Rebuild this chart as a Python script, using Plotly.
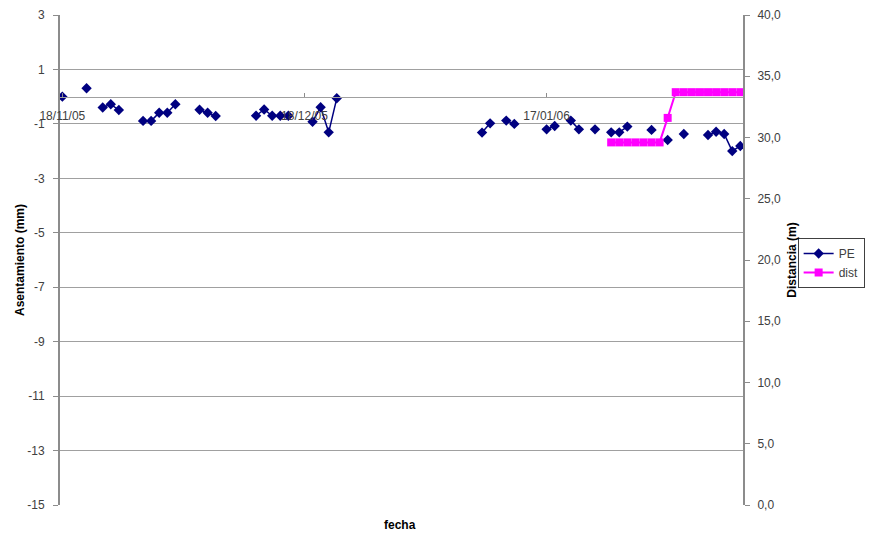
import plotly.graph_objects as go
from datetime import datetime, timedelta

# PE measurements (date, settlement mm)
pe_dates = [
    "2005-11-18", "2005-11-21", "2005-11-23", "2005-11-24", "2005-11-25",
    "2005-11-28", "2005-11-29", "2005-11-30", "2005-12-01", "2005-12-02",
    "2005-12-05", "2005-12-06", "2005-12-07",
    "2005-12-12", "2005-12-13", "2005-12-14", "2005-12-15", "2005-12-16",
    "2005-12-19", "2005-12-20", "2005-12-21", "2005-12-22",
    "2006-01-09", "2006-01-10", "2006-01-12", "2006-01-13",
    "2006-01-17", "2006-01-18", "2006-01-20", "2006-01-21", "2006-01-23",
    "2006-01-25", "2006-01-26", "2006-01-27", "2006-01-30", "2006-02-01",
    "2006-02-03", "2006-02-06", "2006-02-07", "2006-02-08", "2006-02-09", "2006-02-10",
]
pe_values = [
    0.0, 0.31, -0.40, -0.28, -0.49,
    -0.89, -0.89, -0.59, -0.59, -0.28,
    -0.48, -0.59, -0.71,
    -0.70, -0.47, -0.70, -0.70, -0.70,
    -0.92, -0.39, -1.31, -0.06,
    -1.32, -0.98, -0.88, -1.00,
    -1.20, -1.08, -0.88, -1.20, -1.20,
    -1.31, -1.31, -1.10, -1.22, -1.59,
    -1.37, -1.41, -1.29, -1.37, -2.00, -1.81,
]

# dist measurements (date, distance m)
dist_dates = [
    "2006-01-25", "2006-01-26", "2006-01-27", "2006-01-28", "2006-01-29",
    "2006-01-30", "2006-01-31", "2006-02-01", "2006-02-02", "2006-02-03",
    "2006-02-04", "2006-02-05", "2006-02-06", "2006-02-07", "2006-02-08",
    "2006-02-09", "2006-02-10",
]
dist_values = [
    29.6, 29.6, 29.6, 29.6, 29.6,
    29.6, 29.6, 31.6, 33.7, 33.7,
    33.7, 33.7, 33.7, 33.7, 33.7,
    33.7, 33.7,
]

tick_dates = ["2005-11-18", "2005-12-18", "2006-01-17"]
y_tick_vals = [3, 1, -1, -3, -5, -7, -9, -11, -13, -15]
y_tick_text = ["3", "1", "-1", "-3", "-5", "-7", "-9", "-11", "-13", "-15"]


def with_gaps(dates, values):
    """Insert None where consecutive measurements are more than one day apart (Excel blank cells)."""
    xs, ys = [], []
    prev = None
    for d, v in zip(dates, values):
        cur = datetime.strptime(d, "%Y-%m-%d")
        if prev is not None and (cur - prev) > timedelta(days=1):
            xs.append((prev + timedelta(days=1)).strftime("%Y-%m-%d"))
            ys.append(None)
        xs.append(d)
        ys.append(v)
        prev = cur
    return xs, ys


pe_x, pe_y = with_gaps(pe_dates, pe_values)
di_x, di_y = with_gaps(dist_dates, dist_values)

FONT = "Arial, Liberation Sans, sans-serif"
GRID = "#a0a0a0"
AXIS = "#8c8c8c"
TXT = "#404040"

fig = go.Figure()
fig.add_trace(go.Scatter(
    x=pe_x, y=pe_y, name="PE", mode="lines+markers", connectgaps=False,
    line=dict(color="#000080", width=1.5),
    marker=dict(symbol="diamond", size=8, color="#000080"),
))
fig.add_trace(go.Scatter(
    x=di_x, y=di_y, name="dist", mode="lines+markers", connectgaps=False,
    yaxis="y2",
    line=dict(color="#ff00ff", width=2),
    marker=dict(symbol="square", size=8, color="#ff00ff"),
))

# the page body has an 8 px default margin, so the figure is sized to fit the window
fig.update_layout(
    width=867, height=530,
    margin=dict(l=52, r=132, t=7, b=33, autoexpand=False),
    paper_bgcolor="white", plot_bgcolor="white",
    separators=",.",
    font=dict(family=FONT, size=12, color=TXT),
    showlegend=True,
    legend=dict(
        x=1.08, y=0.545, xanchor="left", yanchor="top",
        bordercolor="#404040", borderwidth=1, bgcolor="white",
        font=dict(size=12, color=TXT), tracegroupgap=0,
        itemwidth=30,
    ),
    xaxis=dict(
        type="date",
        range=["2005-11-17 17:00", "2006-02-10 08:00"],
        tickvals=tick_dates, tickformat="%d/%m/%y",
        anchor="free", position=15 / 18, automargin=False,
        showgrid=False, zeroline=False,
        showline=True, linecolor=GRID, linewidth=1.2,
        ticks="inside", ticklen=4, tickcolor=AXIS,
        ticklabelstandoff=8,
        tickfont=dict(size=12, color=TXT),
    ),
    yaxis=dict(
        range=[-15, 3], tickvals=y_tick_vals, ticktext=y_tick_text, automargin=False,
        showgrid=True, gridcolor=GRID, gridwidth=1,
        zeroline=False,
        showline=True, linecolor=AXIS, linewidth=2,
        ticks="outside", ticklen=5, tickcolor=AXIS,
        ticklabelstandoff=6,
        tickfont=dict(size=12, color=TXT),
        title=dict(text="<b>Asentamiento (mm)</b>", font=dict(size=12, color="#000000"), standoff=0),
    ),
    yaxis2=dict(
        range=[0, 40], tick0=0, dtick=5, tickformat=".1f", automargin=False,
        overlaying="y", side="right", anchor="x",
        showgrid=False, zeroline=False,
        showline=True, linecolor=AXIS, linewidth=2,
        ticks="outside", ticklen=5, tickcolor=AXIS,
        ticklabelstandoff=5,
        tickfont=dict(size=12, color=TXT),
        title=dict(text="<b>Distancia (m)</b>", font=dict(size=12, color="#000000"), standoff=8),
    ),
    annotations=[dict(
        text="<b>fecha</b>", xref="paper", yref="paper", x=0.498, y=-0.041,
        showarrow=False, xanchor="center", yanchor="middle",
        font=dict(size=12, color="#000000"),
    )],
)

fig.write_html("out.html")
